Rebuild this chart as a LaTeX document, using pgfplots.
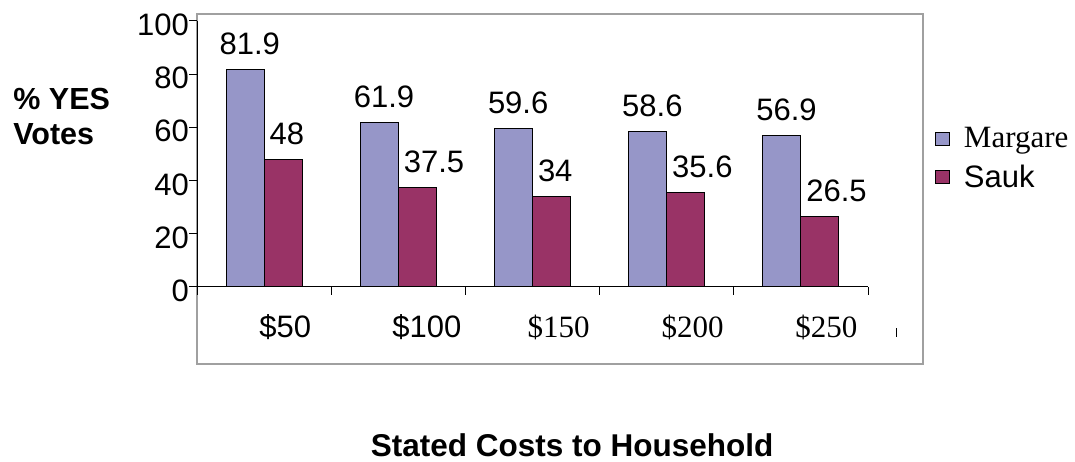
\documentclass[border=0pt]{standalone}
\usepackage{pgfplots}
\pgfplotsset{compat=1.18}
\usepackage{fontspec}
\setmainfont{Liberation Sans}
\newfontfamily\tnr{Liberation Serif}
\newcommand{\fs}{\fontsize{31}{34}\selectfont}
\definecolor{marg}{RGB}{150,150,200}
\definecolor{sauk}{RGB}{153,51,102}
\definecolor{framegray}{RGB}{160,160,160}
\begin{document}
\begin{tikzpicture}[x=1pt,y=1pt]
\path[use as bounding box] (0,0) rectangle (1075,462);
\draw[framegray, line width=2pt] (197,98) rectangle (923,448);
\begin{axis}[
  at={(197pt,175pt)}, anchor=south west,
  scale only axis, width=671pt, height=266pt,
  xmin=0, xmax=5, ymin=0, ymax=100,
  axis lines=left, axis line style={-, black, line width=1pt},
  clip=false,
  /pgf/number format/assume math mode=true,
  ybar=0pt, bar width=38pt,
  tick align=outside,
  major tick length=8pt, minor tick length=8pt,
  ytick={0,20,...,100},
  xtick={0.657,1.713,2.694,3.694,4.69},
  xticklabels={\$50,\$100,{\tnr\$150},{\tnr\$200},{\tnr\$250}},
  minor xtick={0,1,2,3,4,5},
  major x tick style={draw=none},
  minor x tick style={draw=black, line width=1pt},
  ytick style={draw=black, line width=1pt},
  xticklabel style={anchor=base, inner sep=0pt, font=\fs, yshift=-43pt},
  yticklabel style={anchor=base east, inner sep=0pt, font=\fs, yshift=-14.5pt},
  xlabel={Stated Costs to Household},
  every axis x label/.style={at={(axis description cs:0.559,-0.639)}, anchor=base, inner sep=0pt, font=\fontsize{31.5}{36}\selectfont\bfseries},
  ylabel={\% YES\\Votes},
  every axis y label/.style={at={(axis description cs:-0.274,0.64)}, anchor=west, align=left, inner sep=0pt, font=\fontsize{30.5}{35}\selectfont\bfseries},
  nodes near coords,
  every node near coord/.append style={font=\fs, inner sep=0pt, anchor=base west, black},
  legend style={draw=none, fill=none, at={(rel axis cs:1.095,0.483)}, anchor=west, font=\fs, row sep=12pt, legend cell align=left,
    /tikz/every odd column/.append style={column sep=12pt}},
  legend image code/.code={\draw[#1, draw=black, line width=1pt] (0pt,-6.5pt) rectangle (14pt,6.5pt);},
]
\addplot[fill=marg, draw=black, line width=1pt,
  every node near coord/.append style={xshift=-26pt, yshift=15pt}]
  coordinates {(0.5,81.9) (1.5,61.9) (2.5,59.6) (3.5,58.6) (4.5,56.9)};
\addplot[fill=sauk, draw=black, line width=1pt,
  every node near coord/.append style={xshift=-14pt, yshift=15pt}]
  coordinates {(0.5,48) (1.5,37.5) (2.5,34) (3.5,35.6) (4.5,26.5)};
\legend{{\tnr Margare},{Sauk}}
\end{axis}
\draw[black, line width=1pt] (896,125) -- (896,134);
\end{tikzpicture}
\end{document}
